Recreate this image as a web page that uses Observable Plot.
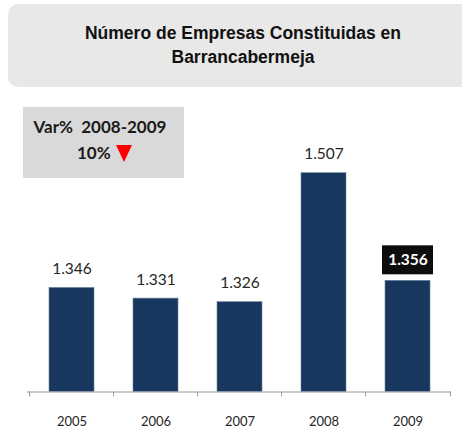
<!DOCTYPE html>
<html><head><meta charset="utf-8">
<script src="https://cdn.jsdelivr.net/npm/d3@7"></script>
<script src="https://cdn.jsdelivr.net/npm/@observablehq/plot@0.6"></script>
<style>
html,body{margin:0;padding:0;background:#fff;overflow:hidden;width:462px;height:434px}
#wrap{position:relative;width:462px;height:434px;overflow:hidden}
#title{position:absolute;left:8px;top:4px;width:480px;height:83px;background:#e8e8e8;border-radius:10px}
#title .t{position:absolute;left:0;top:18px;width:470px;text-align:center;font:bold 17.5px 'Liberation Sans',Arial,sans-serif;line-height:23.5px;color:#111}
#chart{position:absolute;left:0;top:92px}
#var{position:absolute;left:23px;top:107px;width:161px;height:71px;background:#d9d9d9;font-family:Lato,sans-serif;font-weight:bold;color:#1a1a1a;font-size:17px}
#var .l1{position:absolute;left:0;top:8px;width:154px;text-align:center;line-height:24px}
#var .l2{position:absolute;left:54px;top:34px;line-height:24px}
#var .tri{position:absolute;left:93px;top:38px;width:0;height:0;border-left:8.5px solid transparent;border-right:8.5px solid transparent;border-top:17px solid #ff0000}
</style>
</head><body>
<div id="wrap">
  <div id="title"><div class="t">Número de Empresas Constituidas en<br>Barrancabermeja</div></div>
  <div id="chart"></div>
  <div id="var"><div class="l1">Var%&nbsp; 2008-2009</div><div class="l2">10%</div><div class="tri"></div></div>
</div>
<script>
const years = ["2005", "2006", "2007", "2008", "2009"];
const empresas = [1346, 1331, 1326, 1507, 1356];
const highlightYear = "2009";
const baseValue = 1200;

const fmt = d3.formatLocale({decimal: ",", thousands: ".", grouping: [3], currency: ["$", ""]}).format(",d");
const data = years.map((y, i) => ({year: y, value: empresas[i], label: fmt(empresas[i])}));
const normal = data.filter(d => d.year !== highlightYear);
const hi = data.filter(d => d.year === highlightYear);

const W = 462, H = 342, ML = 27, MR = 11, baseY = 299.5;
const step = (W - ML - MR) / years.length;
const axisColor = "#9a9a9a";

const chart = Plot.plot({
  width: W, height: H,
  marginLeft: ML, marginRight: MR, marginTop: 0, marginBottom: H - baseY,
  style: {fontFamily: "Lato, sans-serif", fontSize: "13px", color: "#262626", background: "transparent"},
  x: {domain: years, paddingInner: 0.47, paddingOuter: 0.235, tickSize: 0, tickPadding: 25, label: null},
  y: {domain: [baseValue, 1507], range: [baseY, 80.7], axis: null},
  marks: [
    Plot.barY(data, {x: "year", y1: baseValue, y2: "value", fill: "#17375E", stroke: "#6a819e", strokeWidth: 0.6}),
    Plot.ruleY([baseValue], {stroke: axisColor, strokeWidth: 1}),
    Plot.ruleX(years, {x: d => d, y1: baseValue, y2: baseValue - 7, dx: -step / 2, stroke: axisColor}),
    Plot.ruleX([years[years.length - 1]], {x: d => d, y1: baseValue, y2: baseValue - 7, dx: step / 2, stroke: axisColor}),
    Plot.text(normal, {x: "year", y: "value", text: "label", dy: -19, fontSize: 15.5, fill: "#262626", lineAnchor: "middle"}),
    Plot.barY(hi, {x: "year", y1: "value", y2: "value", insetTop: -35, insetBottom: 6, insetLeft: -3, insetRight: -3, fill: "#0d0d0d"}),
    Plot.text(hi, {x: "year", y: "value", text: "label", dy: -20.5, fontSize: 15.5, fontWeight: "bold", fill: "#ffffff", lineAnchor: "middle"})
  ]
});
document.getElementById("chart").appendChild(chart);
</script>
</body></html>
